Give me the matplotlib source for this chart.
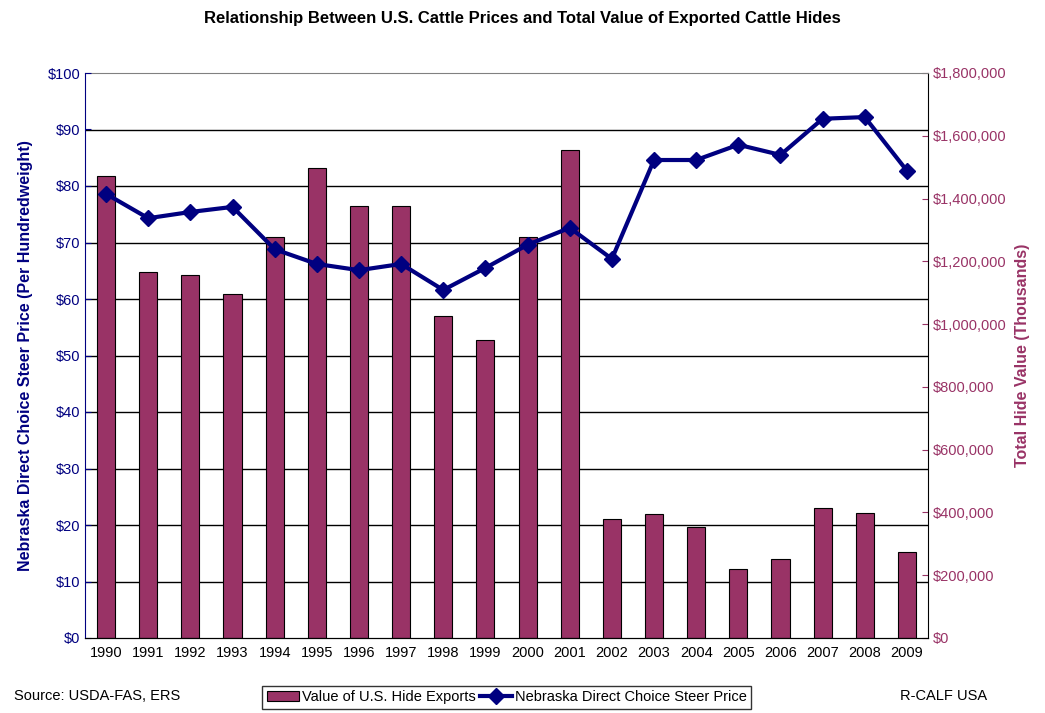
import numpy as np
import matplotlib
matplotlib.use('Agg')
import matplotlib.pyplot as plt
from matplotlib.ticker import FuncFormatter

plt.rcParams['font.family'] = ['Liberation Sans', 'DejaVu Sans']

years = ['1990', '1991', '1992', '1993', '1994', '1995', '1996', '1997', '1998', '1999',
         '2000', '2001', '2002', '2003', '2004', '2005', '2006', '2007', '2008', '2009']
# total hide export value, thousands of dollars
hide_value = [1472000, 1166000, 1156000, 1096000, 1277000, 1497000, 1376000, 1376000, 1026000, 949000,
              1277000, 1555000, 379000, 395000, 354000, 220000, 252000, 414000, 398000, 274000]
# steer price, $ per cwt
steer_price = [78.6, 74.3, 75.4, 76.3, 68.8, 66.2, 65.1, 66.2, 61.6, 65.5,
               69.6, 72.6, 67.1, 84.6, 84.6, 87.3, 85.5, 91.9, 92.2, 82.7]

navy = '#000080'
plum = '#993366'

fig = plt.figure(figsize=(10.45, 7.13), dpi=100)
ax = fig.add_axes([85/1045, 1-638/713, (928-85)/1045, (638-73)/713])
ax2 = ax.twinx()

x = np.arange(len(years))
bars = ax2.bar(x, hide_value, width=0.43, color=plum, edgecolor='black', linewidth=0.8,
               label='Value of U.S. Hide Exports')
line, = ax.plot(x, steer_price, color=navy, lw=3, marker='D', ms=8,
                label='Nebraska Direct Choice Steer Price')

ax.set_zorder(ax2.get_zorder() + 1)
ax.patch.set_visible(False)

ax.set_xlim(-0.5, len(years) - 0.5)
ax.set_ylim(0, 100)
ax.set_yticks(np.arange(0, 101, 10))
ax.yaxis.set_major_formatter(FuncFormatter(lambda v, p: '$%d' % v))
ax2.set_ylim(0, 1800000)
ax2.set_yticks(np.arange(0, 1800001, 200000))
ax2.yaxis.set_major_formatter(FuncFormatter(lambda v, p: '${:,.0f}'.format(v)))
# gridlines follow the left ($10) scale but sit behind the bars
ax2.set_yticks(np.arange(0, 1800001, 180000), minor=True)
ax2.yaxis.grid(True, which='minor', color='black', lw=1)
ax2.tick_params(axis='y', which='minor', length=0)
ax2.set_axisbelow(True)

ax.set_xticks(x)
ax.set_xticklabels(years)
ax.tick_params(axis='x', length=0, labelsize=10.5, pad=6)
ax.tick_params(axis='y', colors=navy, labelsize=10.5, direction='in', length=4)
ax2.tick_params(axis='y', which='major', colors=plum, labelsize=10.5, direction='in', length=4)

ax.spines['left'].set_color(navy)
ax.spines['top'].set_visible(False)
ax2.spines['top'].set_color('#808080')
ax.spines['right'].set_visible(False)
ax2.spines['left'].set_visible(False)
ax2.spines['right'].set_color('black')
ax.spines['bottom'].set_color('black')

ax.set_ylabel('Nebraska Direct Choice Steer Price (Per Hundredweight)', color=navy,
              fontsize=11.5, fontweight='bold', labelpad=10)
ax2.set_ylabel('Total Hide Value (Thousands)', color=plum, fontsize=11.5,
               fontweight='bold', labelpad=6)

fig.suptitle('Relationship Between U.S. Cattle Prices and Total Value of Exported Cattle Hides',
             x=0.5, y=0.985, fontsize=12, fontweight='bold')

leg = fig.legend([bars, line], [bars.get_label(), line.get_label()], loc='center',
                 bbox_to_anchor=(0.485, 0.022), ncol=2, frameon=True, fancybox=False,
                 fontsize=10.5, handlelength=2.2, handletextpad=0.2, columnspacing=0.3,
                 borderpad=0.3)
leg.get_frame().set_edgecolor('black')
leg.get_frame().set_linewidth(1)

fig.text(14/1045, 0.024, 'Source: USDA-FAS, ERS', fontsize=10.5, va='center')
fig.text(900/1045, 0.024, 'R-CALF USA', fontsize=10.5, va='center')

fig.savefig('out.png', dpi=100)
